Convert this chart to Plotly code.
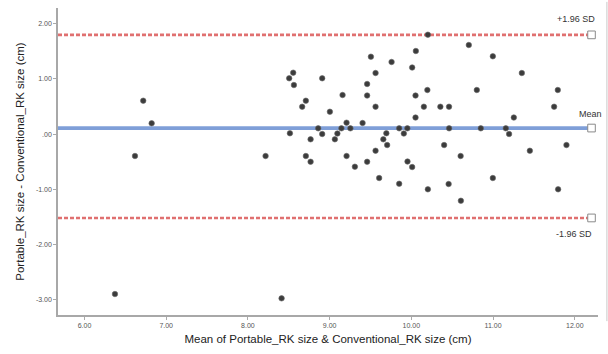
import plotly.graph_objects as go

# Bland-Altman data: mean of the two measurements vs. their difference (cm)
mean_size = [
    6.373, 6.719, 6.822, 6.618, 8.216, 8.412,
    8.554, 8.505, 8.563, 8.909, 8.709, 8.664, 9.003, 9.158, 9.207,
    8.514, 8.860, 8.909, 9.144, 9.095, 9.254, 8.767, 9.064, 8.709,
    8.767, 9.207, 9.309, 9.403,
    9.459, 9.459, 9.505, 9.562, 9.562, 9.758, 10.010, 10.055, 10.051,
    10.196, 10.153, 10.051, 9.694, 9.851, 9.908, 9.951, 9.657, 9.704,
    9.562, 9.459, 9.953, 10.010, 9.606, 9.851, 10.202, 10.202,
    10.703, 10.997, 11.352, 10.801, 11.792, 10.355, 10.461, 11.747,
    11.254, 10.462, 10.850, 11.156, 11.196, 10.401, 10.603, 11.450,
    11.898, 10.997, 10.456, 11.796, 10.606,
]
diff_size = [
    -2.900, 0.606, 0.196, -0.397, -0.397, -2.978,
    1.114, 1.012, 0.890, 1.012, 0.606, 0.497, 0.406, 0.709, 0.207,
    0.015, 0.105, 0.002, 0.105, 0.011, 0.105, -0.094, -0.094, -0.397,
    -0.501, -0.397, -0.591, 0.201,
    0.909, 0.700, 1.404, 1.108, 0.497, 1.308, 1.208, 1.507, 0.700,
    0.800, 0.497, 0.301, 0.015, 0.105, 0.011, 0.105, -0.094, -0.198,
    -0.301, -0.501, -0.497, -0.597, -0.796, -0.900, -1.001, 1.803,
    1.616, 1.411, 1.108, 0.800, 0.800, 0.497, 0.497, 0.497,
    0.301, 0.105, 0.105, 0.105, 0.002, -0.198, -0.397, -0.301,
    -0.198, -0.796, -0.905, -1.001, -1.208,
]

# Reference lines: mean difference and limits of agreement
mean_diff = 0.11
upper_loa = 1.80
lower_loa = -1.52

x_ticks = [6, 7, 8, 9, 10, 11, 12]
x_tick_text = ["6.00", "7.00", "8.00", "9.00", "10.00", "11.00", "12.00"]
y_ticks = [2, 1, 0, -1, -2, -3]
y_tick_text = ["2.00", "1.00", ".00", "-1.00", "-2.00", "-3.00"]

FONT = "Liberation Sans, Arial, sans-serif"
LINE_END = 0.985  # fraction of the x domain where the reference lines stop

fig = go.Figure()

fig.add_trace(go.Scatter(
    x=mean_size, y=diff_size, mode="markers",
    marker=dict(size=5.5, color="#3c3c3c", line=dict(width=0.6, color="#6a6a6a")),
    hoverinfo="x+y", showlegend=False,
))

ref_lines = [
    (upper_loa, "#e07070", 2.6, "4px,2px"),
    (mean_diff, "#7f9fd8", 3.8, "solid"),
    (lower_loa, "#e07070", 2.6, "4px,2px"),
]
for yv, col, w, dash in ref_lines:
    fig.add_shape(type="line", xref="x domain", yref="y",
                  x0=0, x1=LINE_END, y0=yv, y1=yv,
                  line=dict(color=col, width=w, dash=dash), layer="below")
    # small open box at the right end of each line
    fig.add_shape(type="rect", xref="x domain", yref="y",
                  x0=LINE_END - 0.004, x1=LINE_END + 0.01,
                  y0=yv - 0.07, y1=yv + 0.07,
                  line=dict(color="#8a8a8a", width=1), fillcolor="white")

label_font = dict(family=FONT, size=9, color="#333333")
fig.add_annotation(xref="x domain", yref="y", x=0.959, y=upper_loa,
                   xanchor="center", yshift=16, text="+1.96 SD",
                   showarrow=False, font=label_font)
fig.add_annotation(xref="x domain", yref="y", x=0.987, y=mean_diff,
                   xanchor="center", yshift=14, text="Mean",
                   showarrow=False, font=label_font)
fig.add_annotation(xref="x domain", yref="y", x=0.956, y=lower_loa,
                   xanchor="center", yshift=-16, text="-1.96 SD",
                   showarrow=False, font=label_font)

# thin outer frame line on the right side
fig.add_shape(type="line", xref="paper", yref="paper",
              x0=1.0165, x1=1.0165, y0=-0.02, y1=1.02,
              line=dict(color="#c8c8c8", width=1))

tick_font = dict(family=FONT, size=7, color="#555555")
title_font = dict(family=FONT, size=11.5, color="#222222")

fig.update_layout(
    width=608, height=354,
    margin=dict(l=58, r=10, t=8, b=39),
    paper_bgcolor="white", plot_bgcolor="white",
    showlegend=False,
    xaxis=dict(
        range=[5.676, 12.284],
        tickvals=x_ticks, ticktext=x_tick_text,
        tickfont=tick_font, ticks="outside", ticklen=3, tickcolor="#aaaaaa",
        showgrid=False, zeroline=False,
        showline=True, linecolor="#a8a8a8", linewidth=1.5,
        title=dict(text="Mean of Portable_RK size & Conventional_RK size (cm)",
                   font=title_font, standoff=7),
    ),
    yaxis=dict(
        range=[-3.28, 2.287],
        tickvals=y_ticks, ticktext=y_tick_text,
        tickfont=tick_font, ticks="outside", ticklen=3, tickcolor="#aaaaaa",
        showgrid=False, zeroline=False,
        showline=True, linecolor="#a8a8a8", linewidth=1.5,
        title=dict(text="Portable_RK size - Conventional_RK size (cm)",
                   font=title_font, standoff=9),
    ),
)

fig.write_html("out.html")
